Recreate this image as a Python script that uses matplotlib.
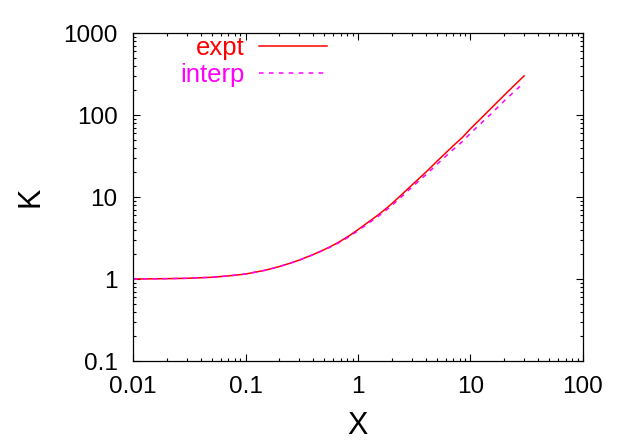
import matplotlib
matplotlib.use("Agg")
import matplotlib.pyplot as plt
from matplotlib.ticker import LogLocator, FixedLocator, FixedFormatter, NullFormatter

plt.rcParams["font.family"] = ["Liberation Sans", "DejaVu Sans"]

# values
X = [0.01, 0.015, 0.02, 0.03, 0.05, 0.07, 0.1, 0.15, 0.2, 0.25, 0.3, 0.4, 0.5, 0.6,
     0.7, 0.85, 1.0, 1.25, 1.5, 1.75, 2.0, 2.5, 3.0, 4.0, 5.0, 6.0, 7.0, 8.5, 10.0,
     12.5, 15.0, 20.0, 25.0, 30.0]
K_expt = [1.00, 1.005, 1.01, 1.02, 1.05, 1.09, 1.15, 1.28, 1.42, 1.56, 1.70, 1.99, 2.28, 2.58,
          2.90, 3.42, 4.0, 5.0, 6.0, 7.1, 8.3, 11.0, 13.9, 20.0, 27.0, 34.3, 42.0, 53.5, 68.0,
          92.0, 118.0, 175.0, 236.0, 300.0]
K_interp = [1.00, 1.005, 1.01, 1.02, 1.05, 1.09, 1.15, 1.28, 1.42, 1.56, 1.70, 1.98, 2.26, 2.54,
            2.84, 3.33, 3.88, 4.83, 5.76, 6.78, 7.9, 10.4, 13.1, 18.6, 24.8, 31.2, 37.8, 47.6, 59.8,
            80.0, 101.0, 149.0, 198.0, 249.0]

xticks = [0.01, 0.1, 1, 10, 100]
xticklabels = ["0.01", "0.1", "1", "10", "100"]
yticks = [0.1, 1, 10, 100, 1000]
yticklabels = ["0.1", "1", "10", "100", "1000"]

fig = plt.figure(figsize=(6.28, 4.40), dpi=100)
ax = fig.add_axes([0.2118, 0.1795, 0.7165, 0.7455])

ax.plot(X, K_expt, color="red", lw=1.1, label="expt")
ax.plot(X, K_interp, color="magenta", lw=1.1, dashes=(3, 3.5), label="interp")

ax.set_xscale("log")
ax.set_yscale("log")
ax.set_xlim(0.01, 100)
ax.set_ylim(0.1, 1000)

ax.xaxis.set_major_locator(FixedLocator(xticks))
ax.xaxis.set_major_formatter(FixedFormatter(xticklabels))
ax.yaxis.set_major_locator(FixedLocator(yticks))
ax.yaxis.set_major_formatter(FixedFormatter(yticklabels))
ax.xaxis.set_minor_locator(LogLocator(base=10, subs=range(2, 10), numticks=20))
ax.yaxis.set_minor_locator(LogLocator(base=10, subs=range(2, 10), numticks=20))
ax.xaxis.set_minor_formatter(NullFormatter())
ax.yaxis.set_minor_formatter(NullFormatter())

ax.tick_params(which="both", direction="in", top=True, right=True, width=0.8)
ax.tick_params(which="major", length=5)
ax.tick_params(which="minor", length=2.5)
ax.tick_params(axis="x", which="major", labelsize=17.5, pad=11)
ax.tick_params(axis="y", which="major", labelsize=17.5, pad=11)
for s in ax.spines.values():
    s.set_linewidth(0.9)

ax.set_xlabel("X", fontsize=22, labelpad=9)
ax.set_ylabel("K", fontsize=22, labelpad=13)

leg = ax.legend(loc="upper right", bbox_to_anchor=(0.431, 0.99), frameon=False,
                markerfirst=False, fontsize=18.5, handlelength=2.65, handletextpad=0.55,
                labelspacing=0.12, borderpad=0, borderaxespad=0, labelcolor="linecolor")
# right-align the entries like gnuplot does
for col in leg._legend_handle_box.get_children():
    col.align = "right"

fig.savefig("out.png", dpi=100)
